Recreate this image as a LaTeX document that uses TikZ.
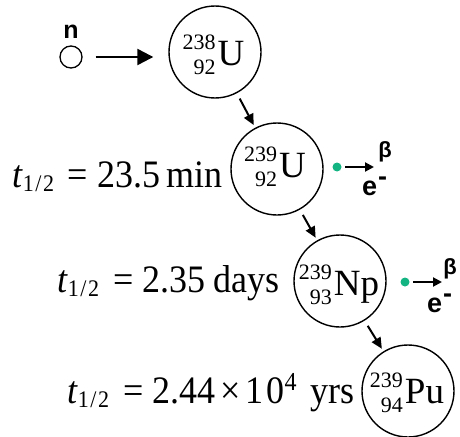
\documentclass[tikz,border=0pt]{standalone}
\usepackage{fontspec}
\setmainfont{Liberation Serif}
\setsansfont{Liberation Sans}
\usepackage{graphicx}
\usetikzlibrary{arrows.meta}
\definecolor{betagreen}{RGB}{20,180,130}
\newcommand{\iso}[3]{%
  \raisebox{-9.5pt}{\fontsize{22}{25}\selectfont\begin{tabular}[b]{@{}r@{}}#1\\#2\end{tabular}}%
  \hspace{2pt}{\fontsize{37}{37}\selectfont #3}}
\newcommand{\thalf}{\textit{t}\raisebox{-4.2pt}{\fontsize{22}{22}\selectfont 1\hspace{1.5pt}/\hspace{1.5pt}2}}
\newcommand{\eqbox}[1]{\scalebox{1}[1.08]{\fontsize{36}{36}\selectfont #1}}
\begin{document}
\begin{tikzpicture}[x=1pt,y=-1pt,
  nuc/.style={circle,draw,line width=1.4pt,minimum size=92pt,inner sep=0pt},
  nuctext/.style={anchor=base,inner sep=0pt},
  arr/.style={line width=2pt,-{Triangle[length=11pt,width=10pt]}},
  barr/.style={line width=2pt,-{Triangle[length=9pt,width=9pt]}},
  eq/.style={anchor=base west,inner sep=0pt},
  dotst/.style={circle,fill=betagreen,minimum size=9pt,inner sep=0pt},
  betast/.style={font=\sffamily\bfseries\fontsize{22}{22}\selectfont,inner sep=0pt},
  elst/.style={font=\sffamily\bfseries\fontsize{27}{27}\selectfont,inner sep=0pt,anchor=base west}
]
\useasboundingbox (0,0) rectangle (460,436);

% neutron
\node[circle,draw,line width=1.3pt,minimum size=22pt,inner sep=0pt] (nc) at (71,57) {};
\node[font=\sffamily\bfseries\fontsize{25}{25}\selectfont,inner sep=0pt,anchor=base] (nl) at (71,38) {n};

% nuclei
\node[nuc] (u238) at (215,52) {};
\node[nuc] (u239) at (277,169) {};
\node[nuc] (np239) at (340,281) {};
\node[nuc] (pu239) at (408,391) {};

\node[nuctext] (tu238) at (213.5,65) {\iso{238}{92}{U}};
\node[nuctext] (tu239) at (275,177) {\iso{239}{92}{U}};
\node[nuctext] (tnp239) at (339,295) {\iso{239}{93}{Np}};
\node[nuctext] (tpu239) at (407,403) {\iso{239}{94}{Pu}};

% arrows
\draw[line width=2.3pt,-{Triangle[length=16pt,width=16pt]},shorten <=13pt,shorten >=15pt] (nc.east) -- (nc.east -| u238.west);
\draw[arr,shorten <=6pt,shorten >=3pt] (u238) -- (u239);
\draw[arr,shorten <=6pt,shorten >=3pt] (u239) -- (np239);
\draw[arr,shorten <=6pt,shorten >=3pt] (np239) -- (pu239);

% half lives
\node[eq] (hl1) at (12,187) {\eqbox{\thalf\hspace{13pt}=\hspace{10pt}23.5\hspace{6pt}min}};
\node[eq] (hl2) at (57,292) {\eqbox{\thalf\hspace{14pt}=\hspace{9pt}2.35\hspace{8.5pt}days}};
\node[eq] (hl3) at (67,403) {\eqbox{\thalf\hspace{14pt}=\hspace{9pt}2.44\hspace{5pt}×\hspace{5pt}1\hspace{3pt}0\raisebox{12pt}{\fontsize{24}{24}\selectfont 4}\hspace{14pt}yrs}};

% beta decays
\node[dotst] (d1) at (337,167) {};
\coordinate (e1) at (374,167);
\draw[barr,shorten <=3.5pt] (d1) -- (e1);
\node[betast] (b1) at (385,152) {β};
\node[elst] (el1) at (362,195) {e\hspace{1pt}\raisebox{10pt}{-}};

\node[dotst] (d2) at (405,282) {};
\coordinate (e2) at (442,282);
\draw[barr,shorten <=3.5pt] (d2) -- (e2);
\node[betast] (b2) at (450,269) {β};
\node[elst] (el2) at (427,312) {e\hspace{1pt}\raisebox{10pt}{-}};
\end{tikzpicture}
\end{document}
